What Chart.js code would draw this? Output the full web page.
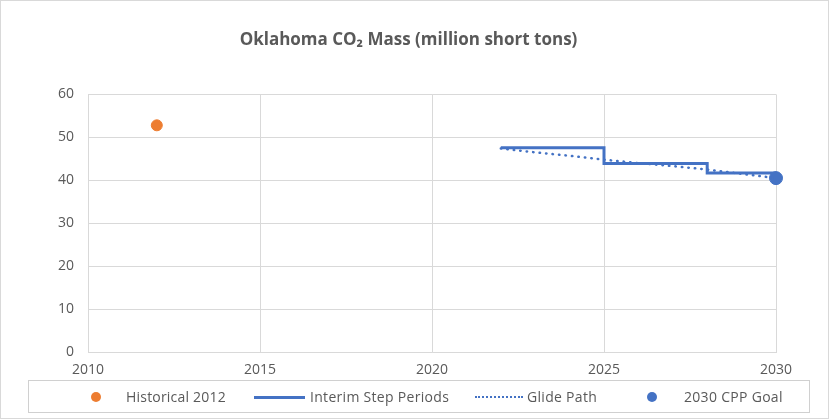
<!DOCTYPE html>
<html>
<head>
<meta charset="utf-8">
<script src="https://cdn.jsdelivr.net/npm/chart.js@4"></script>
<style>
body{margin:0;background:#fff;}
#wrap{position:relative;width:829px;height:419px;box-sizing:border-box;border:1px solid #d9d9d9;}
#co2Chart{position:absolute;left:0;top:0;}
#legend{position:absolute;left:27px;top:379px;width:782px;height:33px;box-sizing:border-box;border:1px solid #d0d0d0;
  font-family:"Open Sans",sans-serif;font-size:14px;color:#595959;}
#legend span{position:absolute;top:6px;white-space:nowrap;}
.dot{width:10px;height:10px;border-radius:50%;top:11px !important;}
.ln{height:0;width:51px;top:15px !important;}
</style>
</head>
<body>
<div id="wrap">
<canvas id="co2Chart" width="827" height="417"></canvas>
<div id="legend">
  <span class="dot" style="left:62px;background:#ED7D31"></span>
  <span style="left:97px;letter-spacing:0.2px">Historical 2012</span>
  <span class="ln" style="left:225px;border-top:3px solid #4472C4"></span>
  <span style="left:281px;letter-spacing:0.3px">Interim Step Periods</span>
  <span class="ln" style="left:446px;width:48px;border-top:2px dotted #4472C4"></span>
  <span style="left:498px;letter-spacing:0.3px">Glide Path</span>
  <span class="dot" style="left:618px;background:#4472C4"></span>
  <span style="left:655px;letter-spacing:0.3px">2030 CPP Goal</span>
</div>
</div>
<script>
const historicalYears = [2012];
const historicalValues = [52.8];

const stepYears = [2022, 2025, 2028, 2030];
const stepValues = [47.6, 43.9, 41.7, 41.7];

const glideYears = [2022, 2023, 2024, 2025, 2026, 2027, 2028, 2029, 2030];
const glideValues = [47.4, 46.5, 45.7, 44.8, 44.0, 43.3, 42.5, 41.5, 40.5];

const goalYears = [2030];
const goalValues = [40.5];

function toPoints(xs, ys){
    return xs.map((x, i) => ({x: x, y: ys[i]}));
}

const gray = "#595959";
const grid = "#d9d9d9";

const ctx = document.getElementById("co2Chart").getContext("2d");

new Chart(ctx,{
    type:"scatter",
    data:{
        datasets:[{
            label:"Historical 2012",
            data:toPoints(historicalYears, historicalValues),
            backgroundColor:"#ED7D31",
            borderColor:"#ED7D31",
            pointRadius:5.5,
            showLine:false
        },{
            label:"Interim Step Periods",
            data:toPoints(stepYears, stepValues),
            borderColor:"#4472C4",
            borderWidth:3,
            pointRadius:0,
            showLine:true,
            stepped:"before"
        },{
            label:"Glide Path",
            data:toPoints(glideYears, glideValues),
            borderColor:"#4472C4",
            borderWidth:2.5,
            borderDash:[0.5,6],
            borderCapStyle:"round",
            pointRadius:0,
            showLine:true
        },{
            label:"2030 CPP Goal",
            data:toPoints(goalYears, goalValues),
            backgroundColor:"#4472C4",
            borderColor:"#4472C4",
            pointRadius:6.5,
            showLine:false,
            clip:false
        }]
    },
    options:{
        responsive:false,
        animation:false,
        layout:{padding:{left:40,right:52,top:0,bottom:36}},
        plugins:{
            legend:{display:false},
            tooltip:{enabled:false},
            title:{
                display:true,
                text:"Oklahoma CO₂ Mass (million short tons)",
                color:gray,
                font:{family:"Open Sans",size:17,weight:"bold"},
                padding:{top:29,bottom:44}
            }
        },
        scales:{
            x:{
                type:"linear",
                min:2010,
                max:2030,
                ticks:{stepSize:5,color:gray,font:{family:"Open Sans",size:14},padding:10,
                    callback:v => String(v)},
                grid:{color:grid,drawTicks:false},
                border:{color:grid},
                afterFit:s => { s.height = 30; }
            },
            y:{
                min:0,
                max:60,
                ticks:{stepSize:10,color:gray,font:{family:"Open Sans",size:14},padding:14},
                grid:{color:grid,drawTicks:false},
                border:{color:grid},
                afterFit:s => { s.width = 47; }
            }
        }
    }
});
</script>
</body>
</html>
